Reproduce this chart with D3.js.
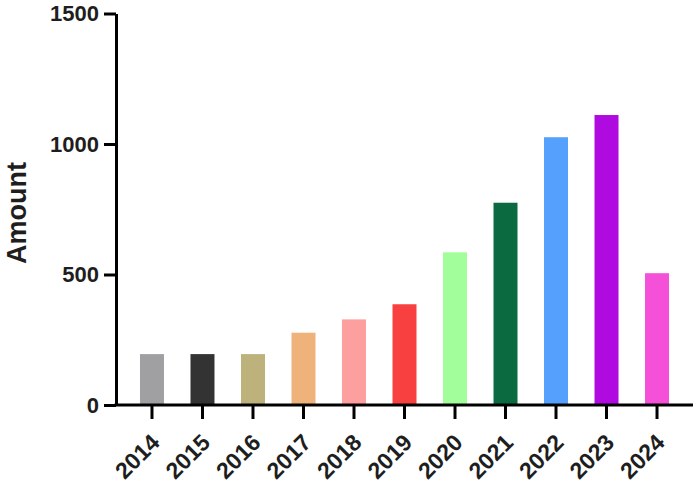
<!DOCTYPE html>
<html>
<head>
<meta charset="utf-8">
<script src="https://cdn.jsdelivr.net/npm/d3@7"></script>
<style>
  body { margin: 0; background: #fff; }
  svg { display: block; font-family: 'Liberation Sans', Arial, sans-serif; }
</style>
</head>
<body>
<svg></svg>
<script>
// Chart data
var years = ['2014', '2015', '2016', '2017', '2018', '2019', '2020', '2021', '2022', '2023', '2024'];
var amounts = [195, 195, 195, 277, 328, 386, 585, 775, 1026, 1111, 505];
var barColors = ['#a0a0a2', '#333333', '#bdb27c', '#efb27a', '#fd9f9f', '#f7403f',
  '#a2fe9a', '#0b6a40', '#55a0fd', '#af0be0', '#f550d8'];
var yTicks = [0, 500, 1000, 1500];

// Dimensions
var width = 700;
var height = 486;
var plotLeft = 116;
var plotRight = 693;
var plotTop = 13.5;
var plotBottom = 405;

var svg = d3.select('svg')
  .attr('width', width)
  .attr('height', height);

var data = years.map(function (yr, i) {
  return { year: yr, amount: amounts[i], color: barColors[i] };
});

var x = d3.scaleBand()
  .domain(years)
  .range([plotLeft, plotRight])
  .paddingInner(0.525)
  .paddingOuter(0.475);

var y = d3.scaleLinear()
  .domain([0, 1500])
  .range([plotBottom, plotTop]);

// Bars
svg.selectAll('rect.bar')
  .data(data)
  .enter()
  .append('rect')
    .attr('class', 'bar')
    .attr('x', function (d) { return x(d.year); })
    .attr('width', x.bandwidth())
    .attr('y', function (d) { return y(d.amount); })
    .attr('height', function (d) { return plotBottom - y(d.amount); })
    .attr('fill', function (d) { return d.color; });

// Y axis
var yAxis = d3.axisLeft(y)
  .tickValues(yTicks)
  .tickFormat(d3.format('d'))
  .tickSizeInner(12)
  .tickSizeOuter(0)
  .tickPadding(5);

var gy = svg.append('g')
  .attr('transform', 'translate(' + plotLeft + ',0)')
  .call(yAxis);

gy.select('.domain').attr('stroke', '#000').attr('stroke-width', 3);
gy.selectAll('.tick line').attr('stroke', '#000').attr('stroke-width', 3);
gy.selectAll('.tick text')
  .attr('fill', '#1e1e1e')
  .style('font-size', '22px')
  .style('font-weight', 'bold')
  .style('font-family', "'Liberation Sans', Arial, sans-serif");

// X axis
var xAxis = d3.axisBottom(x)
  .tickSizeInner(14)
  .tickSizeOuter(0);

var gx = svg.append('g')
  .attr('transform', 'translate(0,' + plotBottom + ')')
  .call(xAxis);

gx.select('.domain').attr('stroke', '#000').attr('stroke-width', 3)
  .attr('d', 'M' + (plotLeft - 1.5) + ',0H' + plotRight);
gx.selectAll('.tick line').attr('stroke', '#000').attr('stroke-width', 3);
gx.selectAll('.tick text')
  .attr('fill', '#1e1e1e')
  .attr('dy', null)
  .attr('y', null)
  .attr('text-anchor', 'end')
  .attr('transform', 'translate(9,39) rotate(-45)')
  .style('font-size', '23px')
  .style('font-weight', 'bold')
  .style('font-family', "'Liberation Sans', Arial, sans-serif");

// Y axis label
svg.append('text')
  .attr('text-anchor', 'middle')
  .attr('transform', 'translate(26,213) rotate(-90)')
  .attr('fill', '#1e1e1e')
  .style('font-size', '27px')
  .style('font-weight', 'bold')
  .text('Amount');
</script>
</body>
</html>
